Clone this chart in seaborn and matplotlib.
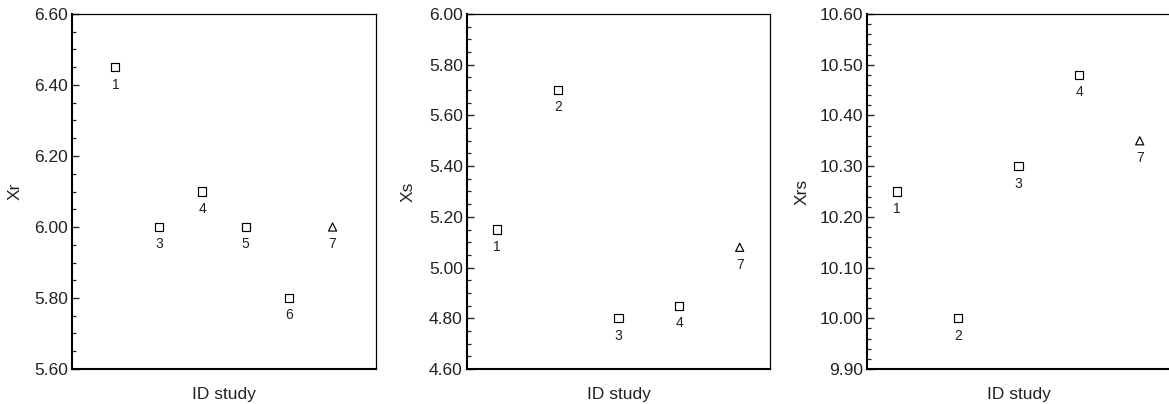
import matplotlib
matplotlib.use("Agg")
import matplotlib.pyplot as plt
from matplotlib.ticker import MultipleLocator, FormatStrFormatter
import seaborn as sns
import pandas as pd

# Study identifiers and estimates for each panel
xr_ids = ["1", "3", "4", "5", "6", "7"]
xr_vals = [6.45, 6.00, 6.10, 6.00, 5.80, 6.00]

xs_ids = ["1", "2", "3", "4", "7"]
xs_vals = [5.15, 5.70, 4.80, 4.85, 5.08]

xrs_ids = ["1", "2", "3", "4", "7"]
xrs_vals = [10.25, 10.00, 10.30, 10.48, 10.35]

sns.set_theme(style="white")
plt.rcParams["font.family"] = ["Liberation Sans", "DejaVu Sans"]

W, H = 1169, 404
fig = plt.figure(figsize=(W / 100, H / 100), dpi=100)


def frac_box(left, right, top, bottom):
    return [left / W, 1 - bottom / H, (right - left) / W, (bottom - top) / H]


panels = [
    dict(ids=xr_ids, vals=xr_vals, label="Xr", ylim=(5.60, 6.60), major=0.2, minor=0.05,
         offset=1, xlim=(0, 7), box=frac_box(72, 376, 14, 369), ylab_x=-0.161),
    dict(ids=xs_ids, vals=xs_vals, label="Xs", ylim=(4.60, 6.00), major=0.2, minor=0.05,
         offset=0, xlim=(-0.5, 4.5), box=frac_box(467, 770, 14, 369), ylab_x=-0.168),
    dict(ids=xrs_ids, vals=xrs_vals, label="Xrs", ylim=(9.90, 10.60), major=0.1, minor=0.02,
         offset=0, xlim=(-0.5, 4.5), box=frac_box(867, 1170, 14, 369), ylab_x=-0.191),
]

for p in panels:
    ax = fig.add_axes(p["box"])
    df = pd.DataFrame({
        "pos": [i + p["offset"] for i in range(len(p["ids"]))],
        "value": p["vals"],
        "study": p["ids"],
    })
    df["shape"] = ["tri" if s == "7" else "sq" for s in df["study"]]
    sns.scatterplot(data=df, x="pos", y="value", style="shape",
                    markers={"sq": "s", "tri": "^"}, s=34,
                    facecolor="none", edgecolor="black", linewidth=0.85,
                    legend=False, ax=ax, zorder=3)
    for _, row in df.iterrows():
        ax.annotate(row["study"], (row["pos"], row["value"]), xytext=(0, -12.5),
                    textcoords="offset points", ha="center", va="center",
                    fontsize=10, color="#222222")

    ax.set_xlim(*p["xlim"])
    ax.set_ylim(*p["ylim"])
    ax.set_xticks([])
    ax.yaxis.set_major_locator(MultipleLocator(p["major"]))
    ax.yaxis.set_minor_locator(MultipleLocator(p["minor"]))
    ax.yaxis.set_major_formatter(FormatStrFormatter("%.2f"))
    ax.tick_params(axis="y", which="major", direction="in", length=5, width=1.0,
                   left=True, right=False, labelsize=12.5, labelcolor="#222222", pad=3)
    ax.tick_params(axis="y", which="minor", direction="in", length=3.2, width=0.9,
                   left=True, right=False)
    for side in ["left", "bottom"]:
        ax.spines[side].set_linewidth(1.5)
        ax.spines[side].set_color("black")
    for side in ["top", "right"]:
        ax.spines[side].set_linewidth(0.9)
        ax.spines[side].set_color("black")

    ax.set_xlabel("ID study", fontsize=12.5, color="#222222", labelpad=13)
    ax.set_ylabel(p["label"], fontsize=12.5, color="#222222")
    ax.yaxis.set_label_coords(p["ylab_x"], 0.5)

fig.savefig("out.png", dpi=100)
